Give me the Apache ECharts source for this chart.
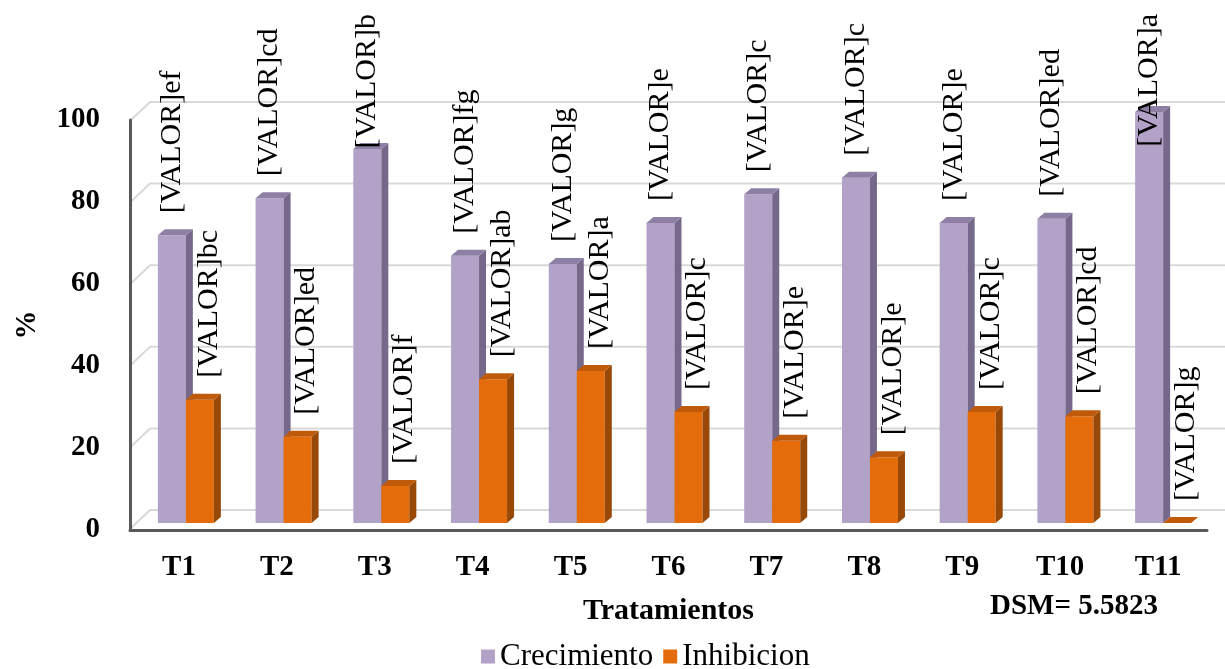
<!DOCTYPE html>
<html>
<head>
<meta charset="utf-8">
<script src="https://cdn.jsdelivr.net/npm/echarts@6/dist/echarts.min.js"></script>
<style>
  html, body { margin: 0; padding: 0; background: #ffffff; }
  #chart { width: 1225px; height: 669px; }
</style>
</head>
<body>
<div id="chart"></div>
<script>
// Treatments and measured percentages
const categories = ['T1', 'T2', 'T3', 'T4', 'T5', 'T6', 'T7', 'T8', 'T9', 'T10', 'T11'];
const crecimiento = [70, 79, 91, 65, 63, 73, 80, 84, 73, 74, 100];
const inhibicion = [30, 21, 9, 35, 37, 27, 20, 16, 27, 26, 0];
// Significance letters shown after the value placeholder
const letrasCrecimiento = ['ef', 'cd', 'b', 'fg', 'g', 'e', 'c', 'c', 'e', 'ed', 'a'];
const letrasInhibicion = ['bc', 'ed', 'f', 'ab', 'a', 'c', 'e', 'e', 'c', 'cd', 'g'];
const yTicks = [0, 20, 40, 60, 80, 100];
const placeholder = '[VALOR]';
const dsmText = 'DSM= 5.5823';

const SERIF = "'Liberation Serif', 'Times New Roman', serif";
const LABEL_FONT = '30px ' + SERIF;
const BAR_FRACTION = 0.2866;   // front face width as a share of the category band
const DEPTH_X = 7, DEPTH_Y = 6; // pseudo-3D extrusion
const LABEL_GAP = 22, LABEL_MIN_TOP = 14;

const measureCtx = document.createElement('canvas').getContext('2d');
measureCtx.font = LABEL_FONT;
function textLength(t) { return measureCtx.measureText(t).width; }

function makeBarRenderer(colors, side, letters, labelShift) {
  return function (params, api) {
    const i = api.value(0), v = api.value(1);
    const base = api.coord([i, 0]);
    const top = api.coord([i, v]);
    const w = api.size([1, 0])[0] * BAR_FRACTION;
    const x0 = side < 0 ? base[0] - w : base[0];
    const x1 = x0 + w, yT = top[1], yB = base[1];
    const text = placeholder + letters[i];
    const len = textLength(text);
    const ly = Math.max(yT - LABEL_GAP, LABEL_MIN_TOP + len);
    return {
      type: 'group',
      children: [
        { type: 'rect', shape: { x: x0, y: yT, width: w, height: yB - yT },
          style: { fill: colors.front } },
        { type: 'polygon', shape: { points: [[x1, yT], [x1 + DEPTH_X, yT - DEPTH_Y], [x1 + DEPTH_X, yB - DEPTH_Y], [x1, yB]] },
          style: { fill: colors.side } },
        { type: 'polygon', shape: { points: [[x0, yT], [x0 + DEPTH_X, yT - DEPTH_Y], [x1 + DEPTH_X, yT - DEPTH_Y], [x1, yT]] },
          style: { fill: colors.top } },
        { type: 'text', x: x0 + w / 2 + labelShift, y: ly, rotation: Math.PI / 2,
          style: { text: text, font: LABEL_FONT, fill: '#000000', align: 'left', verticalAlign: 'middle' },
          z2: 10 }
      ]
    };
  };
}

const purple = { front: '#B3A2C7', side: '#76688A', top: '#8E80A4' };
const orange = { front: '#E46C0A', side: '#984807', top: '#BF5A0B' };

const chart = echarts.init(document.getElementById('chart'), null, { renderer: 'canvas' });

chart.setOption({
  animation: false,
  backgroundColor: '#ffffff',
  grid: [
    { left: 150, right: 0, top: 102, bottom: 159 },   // back wall
    { left: 137, right: 13, top: 112, bottom: 146 },  // bars
    { left: 130, right: 18, top: 120, bottom: 139 }   // front axes
  ],
  xAxis: [
    { gridIndex: 0, type: 'value', min: 0, max: 1, show: false },
    { gridIndex: 1, type: 'category', data: categories, show: false },
    { gridIndex: 2, type: 'category', data: categories,
      axisLine: { lineStyle: { color: '#595959', width: 3 } },
      axisTick: { show: false },
      axisLabel: { fontFamily: SERIF, fontWeight: 'bold', fontSize: 29, color: '#000', margin: 23 },
      name: 'Tratamientos', nameLocation: 'middle', nameGap: 66,
      nameTextStyle: { fontFamily: SERIF, fontWeight: 'bold', fontSize: 30, color: '#000' } }
  ],
  yAxis: [
    { gridIndex: 0, type: 'value', min: 0, max: 100, interval: 20, show: false },
    { gridIndex: 1, type: 'value', min: 0, max: 100, interval: 20, show: false },
    { gridIndex: 2, type: 'value', min: 0, max: 100, interval: 20,
      axisLine: { show: true, lineStyle: { color: '#595959', width: 3 } },
      axisTick: { show: false },
      splitLine: { show: false },
      axisLabel: { fontFamily: SERIF, fontWeight: 'bold', fontSize: 29, color: '#000', margin: 30 },
      name: '%', nameLocation: 'middle', nameGap: 88, nameRotate: 90,
      nameTextStyle: { fontFamily: SERIF, fontWeight: 'bold', fontSize: 29, color: '#000' } }
  ],
  legend: {
    data: ['Crecimiento', 'Inhibicion'],
    left: 476, top: 636,
    icon: 'rect', itemWidth: 14, itemHeight: 14, itemGap: 10,
    textStyle: { fontFamily: SERIF, fontSize: 31, color: '#000' }
  },
  graphic: [
    { type: 'text', left: 990, top: 592,
      style: { text: dsmText, font: 'bold 29px ' + SERIF, fill: '#000' } }
  ],
  series: [
    {
      name: 'pared', type: 'custom', xAxisIndex: 0, yAxisIndex: 0, silent: true,
      data: yTicks.map(v => [0, v]),
      renderItem: function (params, api) {
        const v = api.value(1);
        const p0 = api.coord([0, v]);
        const p1 = api.coord([1, v]);
        return { type: 'polyline',
          shape: { points: [[p0[0] - 20, p0[1] + 19], p0, p1] },
          style: { stroke: '#D9D9D9', lineWidth: 2, fill: null } };
      },
      z: 0
    },
    {
      name: 'Crecimiento', type: 'custom', xAxisIndex: 1, yAxisIndex: 1,
      itemStyle: { color: purple.front },
      data: crecimiento.map((v, i) => [i, v]),
      renderItem: makeBarRenderer(purple, -1, letrasCrecimiento, 0),
      z: 2
    },
    {
      name: 'Inhibicion', type: 'custom', xAxisIndex: 1, yAxisIndex: 1,
      itemStyle: { color: orange.front },
      data: inhibicion.map((v, i) => [i, v]),
      renderItem: makeBarRenderer(orange, 1, letrasInhibicion, 9),
      z: 3
    }
  ]
});
</script>
</body>
</html>
